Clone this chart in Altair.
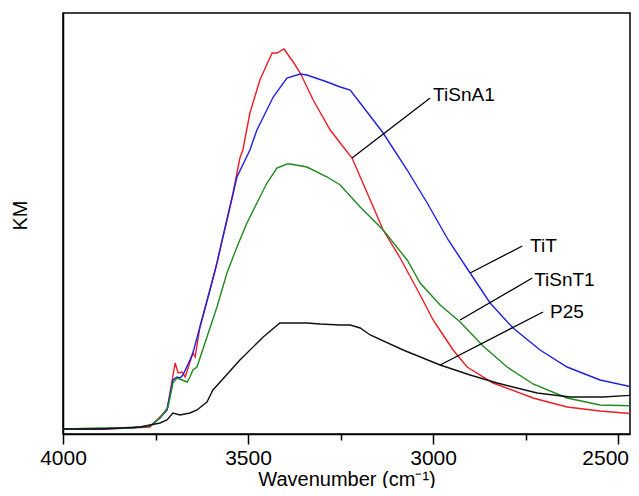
import altair as alt
import pandas as pd

# Wavenumber (cm-1) and KM values (arbitrary KM units)
red_wn = [4000, 3900, 3819, 3765, 3738, 3719, 3705, 3697, 3689, 3678, 3670, 3649, 3643, 3630,
          3603, 3584, 3568, 3557, 3541, 3522, 3514, 3495, 3468, 3435, 3422, 3403, 3378, 3359,
          3324, 3278, 3251, 3219, 3178, 3135, 3089, 3035, 3000, 2973, 2946, 2908, 2838, 2730,
          2638, 2549, 2449]
red_km = [5, 5, 6, 7, 17, 24, 54, 71, 61, 62, 57, 81, 77, 107,
          144, 171, 197, 214, 240, 276, 284, 321, 354, 381, 381, 385, 372, 361,
          334, 304, 291, 276, 241, 204, 176, 139, 114, 99, 84, 67, 51, 36,
          27, 23, 20]

blue_wn = [4000, 3900, 3819, 3765, 3738, 3719, 3703, 3692, 3684, 3676, 3657, 3649, 3630, 3603,
           3584, 3568, 3549, 3530, 3495, 3476, 3432, 3395, 3359, 3341, 3286, 3251, 3224, 3197,
           3135, 3070, 3016, 2959, 2900, 2846, 2784, 2711, 2638, 2549, 2449]
blue_km = [5, 5, 6, 8, 16, 24, 54, 57, 56, 59, 74, 81, 107, 144,
           171, 197, 227, 257, 284, 304, 337, 356, 360, 359, 352, 347, 344, 331,
           301, 264, 231, 194, 161, 131, 106, 84, 67, 54, 46]

green_wn = [4000, 3900, 3819, 3765, 3738, 3716, 3703, 3692, 3678, 3665, 3657, 3649, 3638, 3611,
            3584, 3557, 3530, 3503, 3476, 3449, 3422, 3395, 3386, 3341, 3286, 3251, 3197, 3135,
            3070, 3035, 2981, 2927, 2865, 2800, 2730, 2638, 2549, 2449]
green_km = [5, 6, 6, 8, 16, 27, 51, 56, 54, 52, 57, 64, 67, 97,
            127, 161, 187, 211, 231, 251, 266, 270, 270, 267, 257, 249, 227, 204,
            174, 151, 129, 112, 88, 67, 50, 36, 29, 28]

black_wn = [4000, 3900, 3792, 3738, 3719, 3703, 3684, 3657, 3638, 3611, 3595, 3568, 3522, 3459,
            3414, 3341, 3305, 3251, 3224, 3197, 3170, 3081, 2981, 2900, 2827, 2719, 2630, 2541,
            2449]
black_km = [5, 5, 7, 11, 14, 21, 19, 21, 24, 32, 44, 55, 74, 97,
            111, 111, 110, 109, 109, 106, 99, 84, 69, 59, 51, 41, 37, 37,
            39]

series_names = ["TiSnA1", "TiT", "TiSnT1", "P25"]
series_colors = ["#ee1c25", "#2020e0", "#1f8a1f", "#111111"]

# Annotation leader lines (curve point -> label) and label positions
ann_label = ["TiSnA1", "TiT", "TiSnT1", "P25"]
ann_x1 = [3219, 2900, 2927, 2981]
ann_y1 = [276, 161, 114, 69]
ann_x2 = [3008, 2759, 2732, 2703]
ann_y2 = [336, 188, 156, 122]
ann_tx = [3000, 2738, 2727, 2684]
ann_ty = [339, 188, 154, 122]

major_ticks = [4000, 3500, 3000, 2500]
minor_ticks = [3750, 3250, 2750]

rows = []
for name, wn, km in [("TiSnA1", red_wn, red_km), ("TiT", blue_wn, blue_km),
                     ("TiSnT1", green_wn, green_km), ("P25", black_wn, black_km)]:
    for i, (w, k) in enumerate(zip(wn, km)):
        rows.append({"series": name, "wn": w, "km": k, "order": i})
df = pd.DataFrame(rows)

ann = pd.DataFrame({"label": ann_label, "x1": ann_x1, "y1": ann_y1, "x2": ann_x2,
                    "y2": ann_y2, "tx": ann_tx, "ty": ann_ty})

FONT = "Liberation Sans"
xscale = alt.Scale(domain=[2468, 4000], reverse=True, nice=False, zero=False)
yscale = alt.Scale(domain=[0, 421], nice=False, zero=True)

lines = alt.Chart(df).mark_line(strokeWidth=1.4, clip=True).encode(
    x=alt.X("wn:Q", scale=xscale,
            axis=alt.Axis(values=major_ticks, format="d", title="Wavenumber (cm⁻¹)",
                          orient="bottom",
                          tickSize=10, tickWidth=1.5, tickColor="black",
                          domainColor="black", domainWidth=1.5,
                          labelFont=FONT, labelFontSize=21, labelColor="black",
                          labelPadding=3, labelFlush=False,
                          labelOffset=alt.ConditionalAxisNumber(
                              condition={"test": "datum.value == 2500", "value": -13},
                              value=0),
                          titleFont=FONT, titleFontSize=20, titleFontWeight="normal",
                          titleColor="black", titlePadding=1, grid=False)),
    y=alt.Y("km:Q", scale=yscale,
            axis=alt.Axis(title="KM", labels=False, ticks=False, grid=False,
                          domainColor="black", domainWidth=1.5,
                          titleFont=FONT, titleFontSize=20, titleFontWeight="normal",
                          titleColor="black", titleX=-33, titleY=202)),
    color=alt.Color("series:N", scale=alt.Scale(domain=series_names, range=series_colors),
                    legend=None),
    order="order:Q",
)

leaders = alt.Chart(ann).mark_rule(color="black", strokeWidth=1.3).encode(
    x=alt.X("x1:Q", scale=xscale,
            axis=alt.Axis(values=minor_ticks, orient="bottom", labels=False, domain=False,
                          tickSize=6, tickWidth=1.5, tickColor="black", title=None,
                          grid=False)),
    x2="x2:Q",
    y=alt.Y("y1:Q", scale=yscale, axis=None),
    y2="y2:Q",
)

labels = alt.Chart(ann).mark_text(align="left", baseline="middle", font=FONT,
                                  fontSize=19, color="black").encode(
    x=alt.X("tx:Q", scale=xscale, axis=None),
    y=alt.Y("ty:Q", scale=yscale, axis=None),
    text="label:N",
)

chart = alt.layer(lines, leaders, labels).resolve_axis(x="independent", y="independent").properties(
    width=567, height=421,
    autosize=alt.AutoSizeParams(type="none"),
    padding={"left": 55, "top": 5, "right": 1, "bottom": 54},
).configure_view(stroke="black", strokeWidth=1.5)

chart.save("out.html", embed_options={"renderer": "svg", "actions": False})
